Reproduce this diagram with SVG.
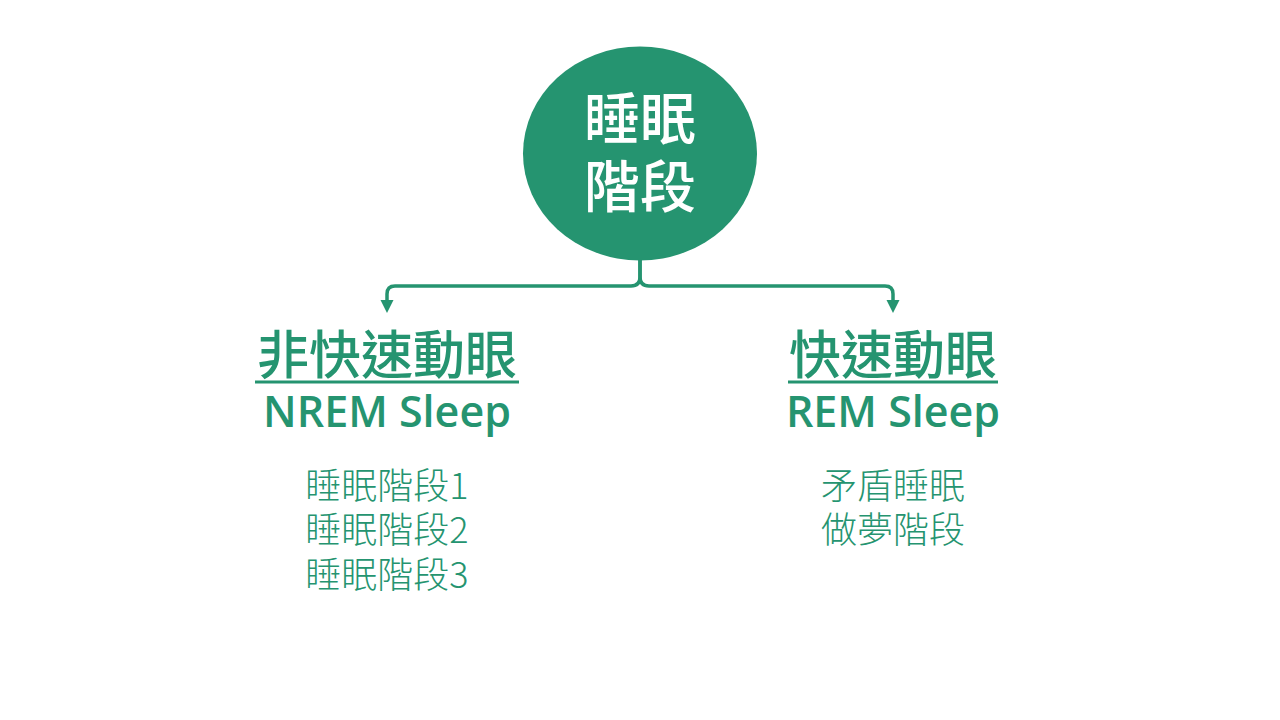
<svg xmlns="http://www.w3.org/2000/svg" width="1280" height="720" viewBox="0 0 1280 720">
<style>
.cjk{font-family:"Noto Sans CJK TC","Noto Sans CJK SC",sans-serif;}
.lat{font-family:"Open Sans","Noto Sans",sans-serif;}
.g{fill:#259470;}
.title{font-size:52px;font-weight:500;}
.en{font-size:43px;font-weight:600;}
.item{font-size:36px;font-weight:300;}
.conn{fill:none;stroke:#259470;stroke-width:3.5;}
.ul{stroke:#259470;stroke-width:3;}
</style>
<rect width="1280" height="720" fill="#ffffff"/>
<g id="root">
<ellipse cx="640" cy="153.5" rx="117" ry="107" fill="#259470"/>
<text class="cjk" x="640" y="139" font-size="56" font-weight="500" fill="#ffffff" text-anchor="middle">睡眠</text>
<text class="cjk" x="640" y="207" font-size="56" font-weight="500" fill="#ffffff" text-anchor="middle">階段</text>
</g>
<g id="connectors">
<path class="conn" d="M640,259 V277 Q640,286 631,286 H395 Q387,286 387,294 V302"/>
<path class="conn" d="M640,259 V277 Q640,286 649,286 H885 Q893,286 893,294 V302"/>
<path d="M380.5,300 L393.5,300 L387,313 Z" fill="#259470"/>
<path d="M886.5,300 L899.5,300 L893,313 Z" fill="#259470"/>
</g>
<g id="nrem">
<text class="cjk g title" x="387" y="374" text-anchor="middle">非快速動眼</text>
<line class="ul" x1="255" y1="382" x2="519" y2="382"/>
<text class="lat g en" x="387" y="427" text-anchor="middle">NREM Sleep</text>
<text class="cjk g item" x="387" y="499" text-anchor="middle">睡眠階段1</text>
<text class="cjk g item" x="387" y="543" text-anchor="middle">睡眠階段2</text>
<text class="cjk g item" x="387" y="588" text-anchor="middle">睡眠階段3</text>
</g>
<g id="rem">
<text class="cjk g title" x="893" y="374" text-anchor="middle">快速動眼</text>
<line class="ul" x1="788" y1="382" x2="998" y2="382"/>
<text class="lat g en" x="893" y="427" text-anchor="middle">REM Sleep</text>
<text class="cjk g item" x="893" y="499" text-anchor="middle">矛盾睡眠</text>
<text class="cjk g item" x="893" y="543" text-anchor="middle">做夢階段</text>
</g>
</svg>
